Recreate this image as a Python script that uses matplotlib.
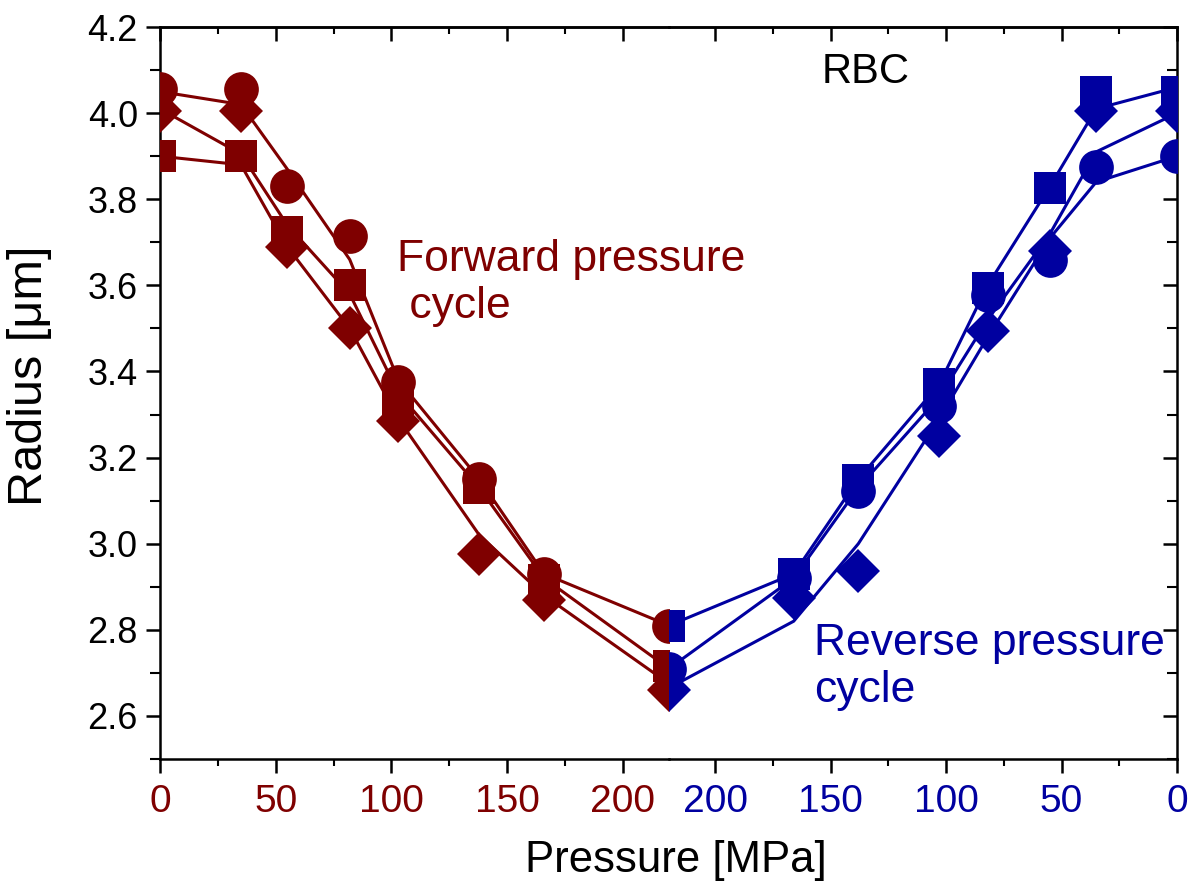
import matplotlib
matplotlib.use("Agg")
import matplotlib.pyplot as plt
from matplotlib.ticker import MultipleLocator

plt.rcParams['font.family'] = ['Liberation Sans', 'DejaVu Sans']

# Pressure steps (MPa) for the forward (loading) and reverse (unloading) cycles
pressure_fwd = [0, 35, 55, 82, 103, 138, 166, 220]
pressure_rev = [0, 35, 55, 82, 103, 138, 166, 220]

# Forward cycle: measured radii (um) for three cells
fwd_circle = [4.055, 4.055, 3.83, 3.715, 3.375, 3.15, 2.93, 2.81]
fwd_square = [3.90, 3.90, 3.725, 3.60, 3.335, 3.13, 2.915, 2.715]
fwd_diamond = [4.005, 4.005, 3.69, 3.50, 3.285, 2.975, 2.87, 2.66]

# Forward cycle: guide curves
fwd_curve_a = [4.05, 4.02, 3.87, 3.66, 3.38, 3.15, 2.93, 2.81]
fwd_curve_b = [4.01, 3.905, 3.74, 3.58, 3.35, 3.13, 2.92, 2.71]
fwd_curve_c = [3.90, 3.88, 3.69, 3.50, 3.29, 3.02, 2.88, 2.675]

# Reverse cycle: measured radii (um)
rev_square = [4.05, 4.05, 3.825, 3.595, 3.37, 3.147, 2.93, 2.81]
rev_circle = [3.90, 3.875, 3.66, 3.577, 3.32, 3.123, 2.92, 2.71]
rev_diamond = [4.005, 4.005, 3.68, 3.495, 3.25, 2.937, 2.875, 2.66]

# Reverse cycle: guide curves
rev_curve_a = [4.06, 4.01, 3.83, 3.60, 3.37, 3.15, 2.93, 2.81]
rev_curve_b = [4.00, 3.91, 3.72, 3.52, 3.34, 3.13, 2.92, 2.71]
rev_curve_c = [3.90, 3.84, 3.71, 3.48, 3.29, 3.00, 2.82, 2.665]

x_major = [0, 50, 100, 150, 200]
x_minor = [25, 75, 125, 175]
y_major = [2.6, 2.8, 3.0, 3.2, 3.4, 3.6, 3.8, 4.0, 4.2]

RED = '#7f0000'
BLUE = '#0000a0'

fig = plt.figure(figsize=(12.01, 8.88), dpi=100)
W, H = 1201, 888
x0, xm, x1 = 160, 669, 1177
ytop, ybot = 27, 759
ax_l = fig.add_axes([x0 / W, (H - ybot) / H, (xm - x0) / W, (ybot - ytop) / H])
ax_r = fig.add_axes([xm / W, (H - ybot) / H, (x1 - xm) / W, (ybot - ytop) / H])
for ax in (ax_l, ax_r):
    ax.patch.set_visible(False)

lw = 2.2
ms = {'o': 25, 's': 23, 'D': 22}


def draw(ax, xs, curves, series, color):
    for c in curves:
        ax.plot(xs, c, '-', color=color, lw=lw, zorder=2)
    for m, ys in series:
        ax.plot(xs, ys, linestyle='none', marker=m, ms=ms[m], color=color,
                mec=color, mew=0, zorder=3)


draw(ax_l, pressure_fwd, [fwd_curve_a, fwd_curve_b, fwd_curve_c],
     [('o', fwd_circle), ('s', fwd_square), ('D', fwd_diamond)], RED)
draw(ax_r, pressure_rev, [rev_curve_a, rev_curve_b, rev_curve_c],
     [('s', rev_square), ('o', rev_circle), ('D', rev_diamond)], BLUE)

ax_l.set_xlim(0, 220)
ax_r.set_xlim(220, 0)
for ax in (ax_l, ax_r):
    ax.set_ylim(2.5, 4.2)
    ax.yaxis.set_major_locator(MultipleLocator(0.2))
    ax.yaxis.set_minor_locator(MultipleLocator(0.1))
    ax.set_xticks(x_major)
    ax.set_xticks(x_minor, minor=True)
    for s in ax.spines.values():
        s.set_linewidth(1.8)
    ax.tick_params(axis='x', which='major', direction='out', length=10, width=1.8,
                   bottom=True, top=False, pad=8)
    ax.tick_params(axis='x', which='minor', direction='out', length=5, width=1.5,
                   bottom=True, top=False)
    # inward ticks along the top edge
    sec = ax.secondary_xaxis('top')
    sec.set_xticks(x_major)
    sec.set_xticks(x_minor, minor=True)
    sec.tick_params(which='major', direction='in', length=10, width=1.8, labeltop=False)
    sec.tick_params(which='minor', direction='in', length=5, width=1.5)
    sec.spines['top'].set_linewidth(1.8)

ax_l.spines['right'].set_visible(False)
ax_r.spines['left'].set_visible(False)

ax_l.tick_params(axis='y', which='major', direction='out', length=10, width=1.8,
                 left=True, right=False, labelsize=26, pad=6)
ax_l.tick_params(axis='y', which='minor', direction='out', length=7, width=1.5,
                 left=True, right=False)
ax_r.tick_params(axis='y', which='both', left=False, right=True, labelleft=False,
                 labelright=False, direction='in')
ax_r.tick_params(axis='y', which='major', length=10, width=1.8)
ax_r.tick_params(axis='y', which='minor', length=7, width=1.5)

for ax, col in ((ax_l, RED), (ax_r, BLUE)):
    ax.set_xticklabels([str(v) for v in x_major], color=col, fontsize=28)

ax_l.set_yticks(y_major)
ax_l.set_yticklabels([f'{v:.1f}' for v in y_major])
fig.text(30 / W, 1 - 376 / H, 'Radius [\u03bcm]', fontsize=35, rotation=90,
         ha='center', va='center')
fig.text(676 / W, 1 - 860 / H, 'Pressure [MPa]', fontsize=31.5,
         ha='center', va='center')

ax_r.text(154, 4.095, 'RBC', fontsize=30, color='black', ha='left', va='center')
ax_l.text(102.5, 3.606, 'Forward pressure\n cycle', fontsize=32, color=RED,
          ha='left', va='center', linespacing=1.2, zorder=5)
ax_r.text(157, 2.713, 'Reverse pressure\ncycle', fontsize=32, color=BLUE,
          ha='left', va='center', linespacing=1.2, zorder=5)

fig.savefig('out.png', dpi=100)
